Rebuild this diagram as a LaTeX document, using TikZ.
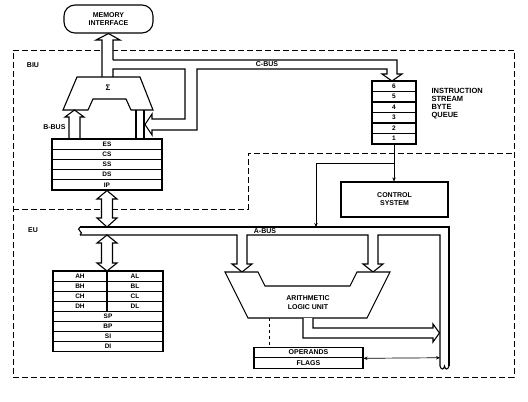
\documentclass[tikz,border=0pt]{standalone}
\usepackage{fontspec}
\setmainfont{Liberation Sans}
\usetikzlibrary{arrows.meta}

\tikzset{
  lbl/.style={font=\fontsize{7}{8}\selectfont\bfseries, inner sep=0pt, align=center},
  reg/.style={draw, font=\fontsize{6.5}{7}\selectfont\bfseries, inner sep=0pt, minimum height=10.2pt},
  bus/.style={draw, fill=white, line join=miter},
  region/.style={dash pattern=on 6pt off 3pt, line width=0.85pt},
}

\begin{document}
\begin{tikzpicture}[x=1pt, y=-1pt, line width=1.1pt, >={Stealth[length=4pt, width=3.5pt]}]
  \useasboundingbox (0,0) rectangle (528,402);

  % === 虚线分区 BIU / EU ===
  \draw[region] (13,50) -- (514,50) -- (514,377) -- (13,377) -- cycle;
  \draw[region] (13,209) -- (248,209) -- (248,153) -- (514,153);
  \node[lbl] (biu) at (33,65) {BIU};
  \node[lbl] (eu) at (33,230) {EU};

  % === BIU ===
  \node[draw, rounded corners=11pt, minimum width=89pt, minimum height=28pt, lbl] (mem) at (108.5,19) {MEMORY\\INTERFACE};

  % 加法器
  \draw[fill=white] (77,77) -- (140,77) -- (153,110) -- (131,110) -- (126,99) -- (93,99) -- (88,110) -- (63,110) -- cycle;
  \node[lbl, font=\fontsize{8}{8}\selectfont\bfseries] (sigma) at (108,88) {Σ};

  % 通往存储器接口
  \draw[bus] (102,77) -- (102,40) -- (96,40) -- (mem.south) -- (120,40) -- (113,40) -- (113,60);

  % C-BUS 及反馈
  \draw (113,60) -- (397,60) -- (397,74) -- (402,74) -- (392,81) -- (382,74) -- (387,74) -- (387,69)
        -- (197,69) -- (197,130) -- (152,130) -- (152,135) -- (145,124.5) -- (152,114) -- (152,119)
        -- (185,119) -- (185,69) -- (113,69) -- (113,77);
  \node[lbl] (cbus) at (267,64.5) {C-BUS};

  % 指令队列
  \foreach \q [count=\i from 0] in {6,5,4,3,2,1}
    \node[reg, minimum width=44pt, minimum height=10.5pt] (q\q) at (394,86.25+10.5*\i) {\q};
  \node[lbl, align=left, anchor=north west, font=\fontsize{7.5}{8}\selectfont\bfseries] (qlabel) at (431,88) {INSTRUCTION\\STREAM\\BYTE\\QUEUE};

  % B-BUS
  \draw[bus] (69,139) -- (69,117) -- (65,117) -- (74.5,110) -- (84,117) -- (80,117) -- (80,139);
  \node[lbl, anchor=east] (bbus) at (66,127) {B-BUS};
  \draw (136,110) -- (136,139);
  \draw (144,110) -- (144,139);

  % 段寄存器
  \foreach \r [count=\i from 0] in {ES,CS,SS,DS,IP}
    \node[reg, minimum width=110pt] (\r) at (107,144.1+10.2*\i) {\r};

  % === EU ===
  \node[draw, lbl, minimum width=107pt, minimum height=35pt] (ctrl) at (394.5,199.5) {CONTROL\\SYSTEM};
  \coordinate (split) at (394,163);
  \coordinate (tap) at (316,227);
  \draw[->, line width=0.8pt] (q1.south) -- (q1.south |- ctrl.north);
  \draw[->, line width=0.8pt] (split) -| (tap);

  % A-BUS
  \draw (80,227) -- (449,227) -- (449,366);
  \draw (80,235) -- (237,235) -- (237,264) -- (232,264) -- (242,272) -- (252,264) -- (247,264) -- (247,235)
        -- (368,235) -- (368,264) -- (363,264) -- (373,272) -- (383,264) -- (378,264) -- (378,235)
        -- (440,235) -- (440,366);
  \draw (80,227) .. controls (75,230) and (85,232) .. (80,235);
  \draw (440,366) .. controls (441,370) and (444,370) .. (444.5,366) .. controls (445,370) and (448,370) .. (449,366);
  \node[lbl] (abus) at (265,231.5) {A-BUS};

  % 双向箭头
  \draw[bus] (IP.south) -- (117,199) -- (112.5,199) -- (112.5,218) -- (117,218) -- (107,227) -- (97,218)
        -- (101.5,218) -- (101.5,199) -- (97,199) -- cycle;
  \draw[bus] (107,235) -- (117,243) -- (112.5,243) -- (112.5,263) -- (117,263) -- (107,271) -- (97,263)
        -- (101.5,263) -- (101.5,243) -- (97,243) -- cycle;

  % 通用寄存器
  \foreach \h/\l [count=\i from 0] in {AH/AL,BH/BL,CH/CL,DH/DL} {
    \node[reg, minimum width=54pt, minimum height=10.1pt] (\h) at (80,276.05+10.1*\i) {\h};
    \node[reg, minimum width=56pt, minimum height=10.1pt] (\l) at (135,276.05+10.1*\i) {\l};
  }
  \foreach \r [count=\i from 4] in {SP,BP,SI,DI}
    \node[reg, minimum width=110pt, minimum height=10.1pt] (\r) at (108,276.05+10.1*\i) {\r};

  % 运算器
  \draw[fill=white] (225,272) -- (258,272) -- (265,286) -- (350,286) -- (357,272) -- (390,272) -- (367,318) -- (248,318) -- cycle;
  \node[lbl, font=\fontsize{7}{9}\selectfont\bfseries] (alu) at (308,302.5) {ARITHMETIC\\LOGIC UNIT};
  \draw[bus] (313,318) -- (313,328) -- (433,328) -- (433,324) -- (439.5,333) -- (433,342) -- (433,338) -- (303,338) -- (303,318);

  % 操作数 / 标志
  \node[reg, font=\fontsize{7}{8}\selectfont\bfseries, minimum width=109pt, minimum height=10.5pt] (oper) at (308.5,352.5) {OPERANDS};
  \node[reg, font=\fontsize{7}{8}\selectfont\bfseries, minimum width=109pt, minimum height=10.5pt] (flags) at (308.5,363) {FLAGS};
  \coordinate (aluout) at (269,318);
  \draw[dashed, line width=0.8pt] (aluout) -- (aluout |- oper.north);
  \coordinate (rbus) at (440,357.75);
  \draw[<->, line width=0.7pt] (oper.south east) -- (rbus);
\end{tikzpicture}
\end{document}
